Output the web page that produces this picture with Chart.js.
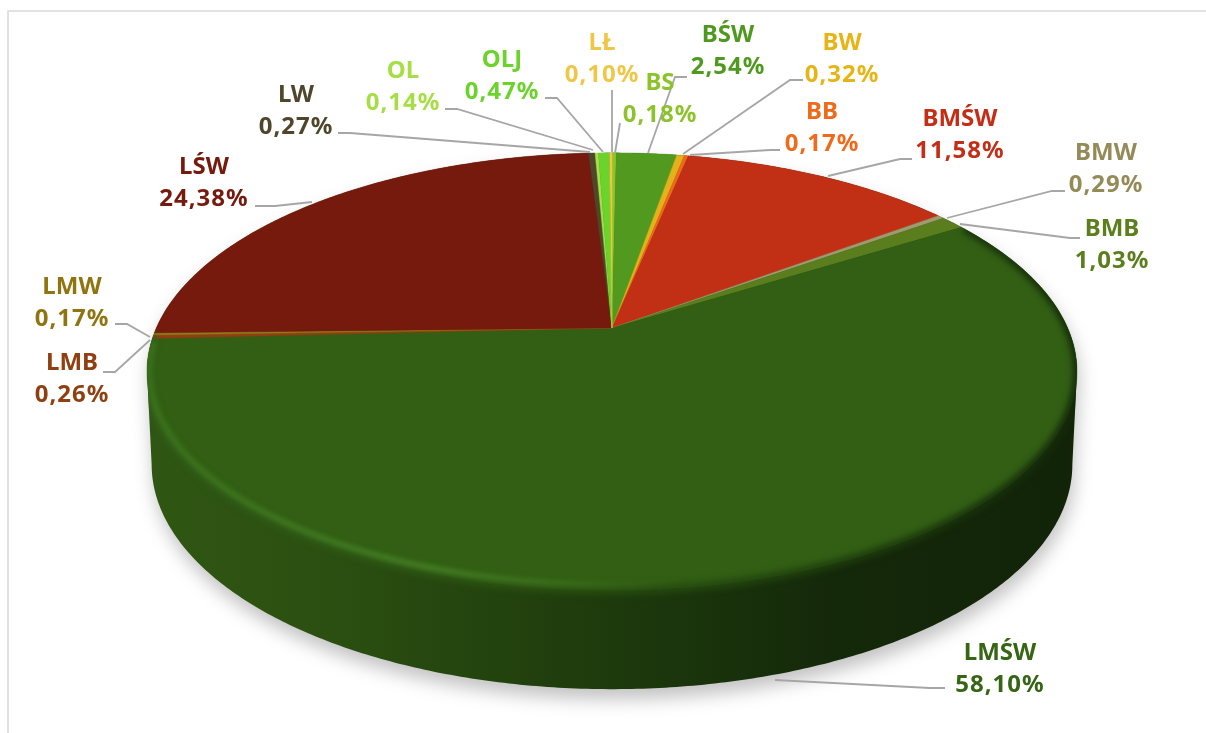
<!DOCTYPE html>
<html>
<head>
<meta charset="utf-8">
<script src="https://cdn.jsdelivr.net/npm/chart.js@4/dist/chart.umd.min.js"></script>
<style>
  html, body { margin: 0; background: #fff; }
  canvas { display: block; }
</style>
</head>
<body>
<canvas id="pie" width="1206" height="733"></canvas>
<script>
const categories = ["BS", "BŚW", "BW", "BB", "BMŚW", "BMW", "BMB", "LMŚW", "LMB", "LMW", "LŚW", "LW", "OL", "OLJ", "LŁ"];
const shares = [0.18, 2.54, 0.32, 0.17, 11.58, 0.29, 1.03, 58.10, 0.26, 0.17, 24.38, 0.27, 0.14, 0.47, 0.10];
const sliceColors = ["#8fc42a", "#529a1f", "#e3b21a", "#ee6a1a", "#c12f14", "#a09a70", "#5a7d1e", "#325f14", "#8f3f10", "#94781a", "#751a0d", "#50462b", "#a8de48", "#6bd32b", "#efc646"];
const labelColors = ["#8cc32a", "#4f9a1e", "#e6b414", "#ef6a1a", "#c42e16", "#958b58", "#5c7f1e", "#356515", "#8f3f10", "#8f7410", "#751a0d", "#50462b", "#a7de45", "#6bd32b", "#efc646"];

// label centres and leader lines, same order as categories
const labelPos = [[660, 83], [728, 35], [842, 43], [822, 112], [960, 119], [1106, 153], [1112, 229], [1000, 653], [72, 363], [72, 287], [204, 167], [296, 95], [403, 71], [502, 60], [602, 43]];
const leaders = [
  [[620, 123], [615, 153]],
  [[687, 77], [675, 77], [648, 153]],
  [[803, 80], [790, 80], [683, 154]],
  [[780, 150], [770, 150], [690, 155]],
  [[912, 159], [900, 159], [828, 176]],
  [[1065, 191], [1052, 191], [947, 218]],
  [[1080, 238], [1070, 238], [960, 224]],
  [[945, 688], [930, 688], [775, 680]],
  [[103, 372], [115, 372], [150, 340]],
  [[115, 324], [127, 324], [150, 337]],
  [[255, 206], [275, 206], [312, 202]],
  [[338, 133], [350, 133], [590, 152]],
  [[445, 109], [457, 109], [593, 150]],
  [[545, 98], [557, 98], [603, 152]],
  [[612, 90], [612, 152]]
];

// tilted disc: the pie centre sits above the middle of the ellipse
const cx = 612, cy = 328, kx = 455.7, ky = 210, persp = 0.199;
const toTop = (a) => {
  const s = 1 / (1 - persp * Math.sin(a));
  return [cx + kx * Math.cos(a) * s, cy + ky * Math.sin(a) * s];
};
const toBottom = (a) => {
  const p = toTop(a);
  return [cx + (p[0] - cx) * 0.99, 465 + (p[1] - 372) * 225 / 219];
};
const toInner = (a) => {
  const p = toTop(a);
  return [cx + (p[0] - cx) * 0.995, 372 + (p[1] - 372) * 0.975];
};

const rimPath = (ctx, fn, from, to) => {
  const n = Math.max(2, Math.ceil(Math.abs(to - from) / 0.01));
  for (let i = 0; i <= n; i++) {
    const p = fn(from + (to - from) * i / n);
    ctx.lineTo(p[0], p[1]);
  }
};
const outline = (ctx, dx, dy) => {
  const side = 0.2;
  const top = (a) => { const p = toTop(a); return [p[0] + dx, p[1] + dy]; };
  const bottom = (a) => { const p = toBottom(a); return [p[0] + dx, p[1] + dy]; };
  ctx.beginPath();
  rimPath(ctx, top, Math.PI - side, Math.PI * 2 + side);
  rimPath(ctx, bottom, side, Math.PI - side);
  ctx.closePath();
};

const disc3d = {
  id: "disc3d",
  beforeDatasetsDraw(chart) {
    const ctx = chart.ctx;
    const arcs = chart.getDatasetMeta(0).data;

    // frame
    ctx.save();
    ctx.strokeStyle = "#d9d9d9";
    ctx.lineWidth = 1.5;
    ctx.beginPath();
    ctx.moveTo(8, 733);
    ctx.lineTo(8, 11);
    ctx.lineTo(1206, 11);
    ctx.stroke();
    ctx.restore();

    // soft shadow under the disc
    ctx.save();
    ctx.filter = "blur(9px)";
    ctx.fillStyle = "rgba(0,0,0,0.24)";
    outline(ctx, 2, 10);
    ctx.fill();
    ctx.restore();

    // side wall
    const wall = ctx.createLinearGradient(147, 0, 1078, 0);
    wall.addColorStop(0, "#305613");
    wall.addColorStop(0.2, "#2b4f11");
    wall.addColorStop(0.5, "#1d3a0c");
    wall.addColorStop(0.75, "#14280a");
    wall.addColorStop(1, "#122408");
    ctx.save();
    ctx.fillStyle = wall;
    outline(ctx, 0, 0);
    ctx.fill();
    ctx.restore();

    // top face, one slice per arc element
    arcs.forEach((arc) => {
      const color = arc.options.backgroundColor;
      ctx.save();
      ctx.fillStyle = color;
      ctx.strokeStyle = color;
      ctx.lineWidth = 0.4;
      ctx.beginPath();
      ctx.moveTo(cx, cy);
      rimPath(ctx, toTop, arc.startAngle, arc.endAngle);
      ctx.closePath();
      ctx.fill();
      ctx.stroke();
      ctx.restore();
    });

    ctx.save();
    outline(ctx, 0, 0);
    ctx.clip();

    // soft step from the face down to the wall
    const step = ctx.createLinearGradient(147, 0, 1078, 0);
    step.addColorStop(0, "#31601a");
    step.addColorStop(0.4, "#2c5412");
    step.addColorStop(0.6, "#24480f");
    step.addColorStop(1, "#142a09");
    ctx.save();
    ctx.filter = "blur(3px)";
    ctx.strokeStyle = step;
    ctx.lineWidth = 8;
    ctx.beginPath();
    rimPath(ctx, toTop, -0.55, Math.PI - 0.03);
    ctx.stroke();
    ctx.restore();

    // light band inside the front rim, left side only
    const band = ctx.createLinearGradient(147, 0, 1078, 0);
    band.addColorStop(0, "rgba(62,118,28,0.9)");
    band.addColorStop(0.3, "rgba(72,132,40,0.95)");
    band.addColorStop(0.45, "rgba(68,126,34,0.6)");
    band.addColorStop(0.58, "rgba(60,110,28,0)");
    band.addColorStop(1, "rgba(60,110,28,0)");
    ctx.save();
    ctx.filter = "blur(2.5px)";
    ctx.strokeStyle = band;
    ctx.lineWidth = 5;
    ctx.beginPath();
    rimPath(ctx, toInner, 0.6, Math.PI - 0.06);
    ctx.stroke();
    ctx.restore();

    ctx.restore();
  },
  afterDatasetsDraw(chart) {
    const ctx = chart.ctx;
    ctx.save();
    ctx.strokeStyle = "#a6a6a6";
    ctx.lineWidth = 1.8;
    leaders.forEach((line) => {
      ctx.beginPath();
      line.forEach((p, i) => (i ? ctx.lineTo(p[0], p[1]) : ctx.moveTo(p[0], p[1])));
      ctx.stroke();
    });
    ctx.font = "700 24px 'Noto Sans'";
    ctx.textAlign = "center";
    ctx.textBaseline = "middle";
    categories.forEach((name, i) => {
      const [x, y] = labelPos[i];
      ctx.fillStyle = labelColors[i];
      ctx.letterSpacing = "0px";
      ctx.fillText(name, x, y);
      ctx.letterSpacing = "1px";
      ctx.fillText(shares[i].toFixed(2).replace(".", ",") + "%", x, y + 32.5);
    });
    ctx.restore();
  }
};

// default slice drawing is replaced by the tilted version above
const hideFlatPie = {
  id: "hideFlatPie",
  beforeDatasetDraw() { return false; }
};

new Chart(document.getElementById("pie"), {
  type: "pie",
  data: {
    labels: categories,
    datasets: [{ data: shares, backgroundColor: sliceColors, borderWidth: 0 }]
  },
  options: {
    responsive: false,
    animation: false,
    plugins: { legend: { display: false }, tooltip: { enabled: false } }
  },
  plugins: [disc3d, hideFlatPie]
});
</script>
</body>
</html>
